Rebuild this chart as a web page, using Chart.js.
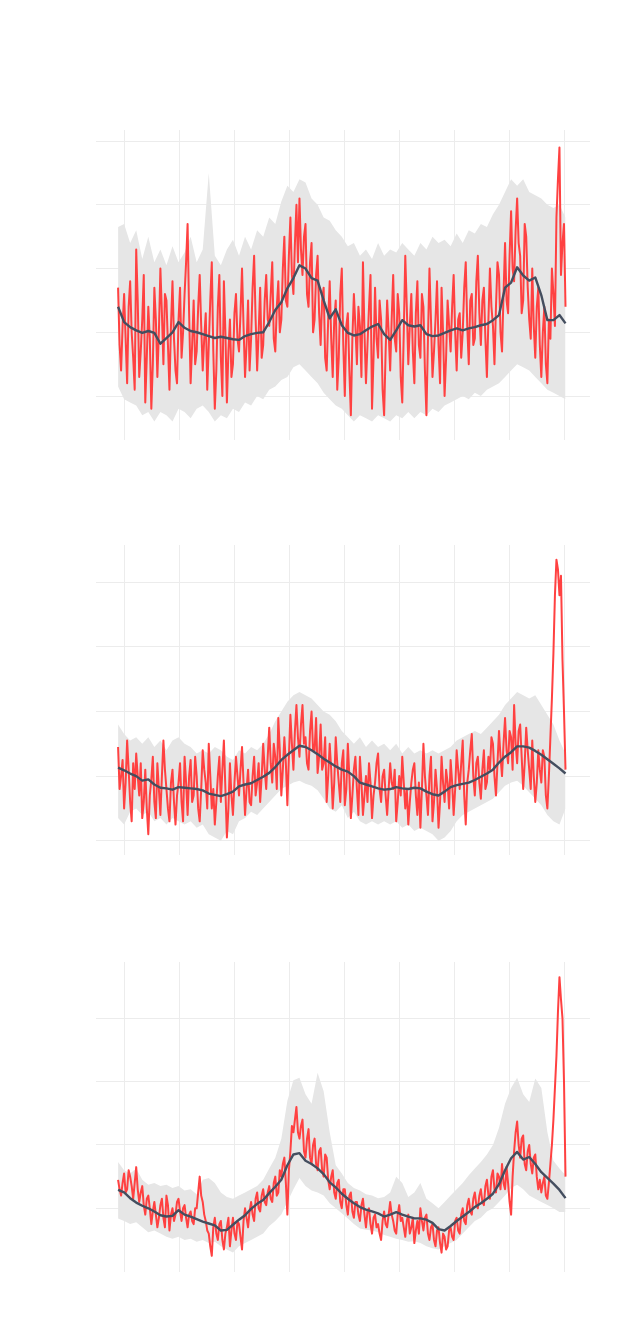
<!DOCTYPE html>
<html>
<head>
<meta charset="utf-8">
<script src="https://cdn.jsdelivr.net/npm/chart.js@4.4.1/dist/chart.umd.min.js"></script>
<style>
  html, body { margin: 0; padding: 0; background: #ffffff; }
  body { position: relative; width: 640px; height: 1320px; overflow: hidden; }
  .panel { position: absolute; left: 96px; width: 494px; height: 310px; }
</style>
</head>
<body>
<div class="panel" style="top:130px"><canvas id="chartTop"></canvas></div>
<div class="panel" style="top:545px"><canvas id="chartMiddle"></canvas></div>
<div class="panel" style="top:962px"><canvas id="chartBottom"></canvas></div>
<script>
// day offsets: raw series every 2.5 days, smoothed/range every 10 days
const DAY_START = -10;
const RAW_STEP = 2.5;
const SMOOTH_STEP = 10;
const X_TICKS = [0, 91, 182, 273, 364, 455, 546, 637, 728];
const X_MIN = -46.5;
const X_MAX = 770.5;

const RED = "#ff4141";
const DARK = "#444e5f";
const BAND = "#e6e6e6";
const GRID = "#ececec";

// ---- top panel ----
const topRaw = [
  17, 8, 4, 11, 16, 9, 2, 14, 18, 10, 6, 1, 23, 15, 3, 7, 12, 19, -1, 6,
  14, 9, -2, 5, 17, 12, 3, 10, 20, 13, 5, 16, 15, 8, 1, 11, 18, 9, 4, 2,
  12, 17, 6, 10, 16, 21, 27, 13, 2, 8, 15, 5, 7, 14, 19, 11, 4, 9, 13, 1,
  8, 15, 21, 7, -2, 4, 14, 19, 6, 0, 18, 10, -1, 7, 12, 3, 5, 13, 16, 9,
  7, 13, 20, 11, 3, 8, 15, 4, 9, 17, 22, 12, 4, 10, 17, 6, 8, 15, 19, 12,
  11, 16, 21, 9, 7, 14, 18, 10, 12, 20, 25, 15, 14, 22, 28, 19, 16, 24, 30, 21,
  31, 23, 19, 25, 27, 16, 14, 21, 24, 10, 12, 19, 22, 13, 8, 15, 17, 6, 4, 12,
  18, 9, 3, 12, 15, 1, 6, 16, 20, 8, 0, 11, 13, 4, -3, 9, 16, 11, 5, 14,
  11, 3, 21, 10, 2, 8, 14, 19, -2, 6, 17, 9, 6, 15, 12, 1, -3, 7, 15, 10,
  4, 12, 19, 9, 7, 16, 13, 3, -1, 10, 22, 14, 5, 11, 16, 7, 2, 13, 18, 8,
  6, 16, 14, 4, -3, 9, 20, 12, 3, 7, 12, 18, 8, 2, 17, 10, 0, 6, 15, 11,
  7, 14, 19, 10, 4, 12, 13, 6, 10, 17, 21, 11, 5, 15, 16, 8, 9, 18, 22, 13,
  8, 15, 17, 9, 3, 12, 20, 14, 11, 5, 14, 21, 19, 10, 7, 16, 24, 15, 13, 22,
  29, 20, 18, 26, 31, 24, 22, 13, 15, 27, 25, 17, 12, 9, 20, 11, 6, 14, 17, 8,
  3, 10, 14, 5, 2, 12, 9, 20, 16, 11, 28, 34, 39, 19, 24, 27, 14,
];
const topMean = [
  14.0, 11.6, 10.8, 10.3, 9.9, 10.2, 9.9, 8.2, 9.1, 10.0,
  11.6, 10.7, 10.2, 10.0, 9.7, 9.4, 9.1, 9.3, 9.1, 8.9,
  8.8, 9.4, 9.7, 9.9, 10.0, 11.6, 13.5, 14.7, 16.9, 18.5,
  20.5, 20.0, 18.5, 18.1, 15.0, 12.2, 13.6, 11.1, 9.9, 9.5,
  9.7, 10.3, 10.9, 11.3, 9.7, 8.8, 10.3, 11.9, 11.1, 10.9,
  11.1, 9.7, 9.4, 9.5, 9.9, 10.3, 10.6, 10.3, 10.6, 10.8,
  11.1, 11.3, 11.9, 12.7, 17.0, 17.8, 20.2, 18.9, 18.1, 18.6,
  15.8, 11.9, 11.9, 12.7, 11.4,
];
const topHigh = [
  26.5, 27, 24, 26, 21.5, 25, 21, 23, 20.5, 23.5,
  21, 22.5, 25, 21, 23, 35, 22, 20.5, 23, 24.5,
  22, 25, 23, 26, 25, 28, 27, 30.5, 33, 32,
  34, 33.5, 31, 30, 28, 27.5, 26, 25, 23.5, 24,
  22, 23, 21.5, 24, 22, 23, 22.5, 24, 23, 22,
  24, 23, 25, 24, 24.5, 23.5, 25.5, 24, 26, 25.5,
  27, 26.5, 28.5, 30, 32, 34, 33, 34, 32, 31.5,
  31, 30, 29.5, 30, 28,
];
const topLow = [
  1.5, -0.5, -1, -1.5, -3, -2.5, -4, -2.5, -3, -4,
  -2, -2.5, -3.5, -2, -1.5, -2.5, -4, -3, -3.5, -2,
  -2.5, -1, -1.5, 0, -0.5, 1, 1.5, 2.5, 3, 4.5,
  5, 4, 3, 2, 0.5, -0.5, -1.5, -2, -3, -4,
  -3, -3.5, -4, -3, -3.5, -4, -3, -3.5, -2.5, -3.5,
  -2.5, -3, -2, -2.5, -1.5, -1, -0.5, 0, -0.5, 0.5,
  0, 1, 1.5, 2, 3, 4, 5, 4.5, 4, 3,
  2, 1, 0.5, 0, -0.5,
];
const topYTicks = [0, 10, 20, 30, 40];

// ---- middle panel ----
const middleRaw = [
  14.5, 8, 10, 12.5, 5, 9, 15.5, 11, 6, 3, 12, 8, 13.5, 10, 7, 12, 3.5, 6, 11, 5,
  1, 7, 9.5, 13, 6, 3.5, 12, 8, 4, 10, 15.5, 11, 8, 5, 3, 9, 11, 6, 2.5, 7,
  9, 12, 6, 3, 13, 9, 4, 10, 12.5, 6, 7, 13, 10, 5, 3, 8, 14, 11, 9, 5,
  15, 10, 5, 8, 2.5, 6, 10, 13, 6, 11, 15.5, 8, 0.5, 5, 12, 7, 4, 9, 13, 10,
  7, 11, 14.5, 9, 4, 8, 11, 6, 5.5, 10, 13, 7, 9, 12, 6, 10, 15, 11, 8, 13,
  17.5, 12, 9, 15, 13, 8, 19, 14, 7, 11, 16, 12, 5.5, 13, 19.5, 15, 11, 17, 21, 16,
  13, 18, 21, 15, 16, 12, 11, 17, 20, 14, 14, 19, 10.5, 13, 18, 11, 12, 16, 6, 10,
  15, 11, 5, 9, 16, 12, 9, 6, 12, 14, 5.5, 8, 15, 10, 3.5, 7, 11, 13, 8, 4,
  13, 9, 4, 7, 10, 6, 12, 9, 3.5, 7, 9, 12, 13.5, 8, 6, 10, 11, 7, 4, 8,
  12, 9, 8, 11, 3, 6, 10, 7, 13, 9, 5, 8, 2.5, 6, 9, 11, 12, 7, 4, 9,
  2, 8, 15, 10, 7, 4, 10, 13, 3, 6, 11, 8, 2, 6, 13, 9, 6, 11, 9, 5,
  12.5, 9, 4, 8, 14, 11, 8, 12, 15.5, 7, 2.5, 9, 11, 14, 16.5, 10, 7, 12, 13, 9,
  6.5, 11, 14, 8, 9, 13, 11, 16, 15, 10, 7, 12, 17, 13, 10, 15, 19, 14, 12, 17,
  16, 11, 21, 15, 12, 17, 18, 13, 8, 12, 17.5, 14, 11, 8, 15.5, 10, 6, 9, 14, 11,
  9, 14, 13, 7, 5, 10, 16, 22, 29, 38, 43.5, 42, 38, 41, 28, 20, 11,
];
const middleMean = [
  11.3, 10.9, 10.4, 10.0, 9.3, 9.5, 8.7, 8.2, 8.1, 7.9,
  8.3, 8.2, 8.1, 8.0, 7.8, 7.3, 7.1, 6.9, 7.2, 7.6,
  8.4, 8.7, 8.9, 9.4, 9.9, 10.5, 11.4, 12.5, 13.3, 14.0,
  14.7, 14.5, 14.0, 13.4, 12.7, 12.1, 11.5, 11.0, 10.7, 10.0,
  9.0, 8.7, 8.4, 8.1, 7.9, 8.0, 8.3, 8.1, 8.0, 8.2,
  8.1, 7.6, 7.2, 7.0, 7.6, 8.3, 8.6, 8.8, 9.0, 9.4,
  9.9, 10.4, 11.0, 12.1, 13.0, 13.7, 14.6, 14.6, 14.4, 13.9,
  13.3, 12.6, 11.9, 11.2, 10.4,
];
const middleHigh = [
  18, 16.5, 15.5, 16, 15, 16, 14.5, 15.5, 14, 15.5,
  16, 15, 14.5, 13.5, 14, 13.5, 14.5, 14, 13, 12.5,
  14, 13.5, 14.5, 14, 15, 16.5, 18.5, 20, 21.5, 22.5,
  23, 22.5, 22, 21, 20, 19.5, 18.5, 17, 16, 15,
  16, 14.5, 15.5, 14.5, 15, 14, 15, 13.5, 14.5, 13.5,
  14, 13.5, 14, 13.5, 14, 14.5, 15.5, 16, 16.5, 17,
  16.5, 17.5, 18.5, 19.5, 21, 22, 23, 22.5, 22, 22.5,
  21, 19.5, 18, 15.5, 13.5,
];
const middleLow = [
  3.5, 2.5, 4.5, 5, 4, 4.5, 3, 3.5, 2.5, 3.5,
  3, 2.5, 3, 2, 2.5, 1, 0.5, 0, 1.5, 1,
  3, 3.5, 4.5, 4, 5, 6, 7, 8, 8.5, 9,
  9.3, 8.8, 8.5, 7.8, 6.5, 5, 4.5, 5.5, 3.5, 4.5,
  3, 2.5, 3, 2.5, 3, 2.5, 3, 2, 2.5, 1.5,
  2, 1.5, 1, 0, 0.5, 1.5, 3, 4, 4.5, 5,
  5.5, 6, 6.5, 7.5, 8.5, 9, 9.3, 8.5, 7.5, 6.5,
  5.5, 4, 3, 2.5, 5,
];
const middleYTicks = [0, 10, 20, 30, 40];

// ---- bottom panel ----
const bottomRaw = [
  4.5, 3, 2, 4, 5.5, 2.5, 3, 6, 5, 3.5, 1.5, 4, 6.5, 3, 1, 2.5, 3.5, 0.5, -1, 1.5,
  2, 0, -2.5, -0.5, 1, -1, -3, -1.5, 0.5, 1.5, -1.5, -3, 2, 0.5, -3.5, -1, 0, -2, -1, 1,
  1.5, -0.5, -2, 0, 0.5, -1.5, -3, -1, -0.5, -2, -2.5, 0, 0, 2.5, 5, 2, 1, -1, -2, -3.5,
  -4, -6, -7.5, -3, -1.5, -4, -5, -2.5, -2, -5, -6.5, -4, -3, -1.5, -6, -3.5, -1.5, -4, -5, -2,
  -2.5, -4.5, -6.5, -2, 0, -1.5, -3, -0.5, 1, -1, -2, 1.5, 2.5, 0, -0.5, 2, 3, 1, 0.5, 2.5,
  3.5, 1.5, 1, 4, 5, 2, 2.5, 6, 5, 7, 8, 4, -1, 6, 9, 13, 12, 14, 16, 12,
  11, 13, 14, 9, 8, 11, 12.5, 8, 7, 10, 11, 7, 6, 9, 9.5, 6, 5, 8.5, 8, 4.5,
  3, 5, 6, 2.5, 1.5, 4, 4.5, 1, 0, 3, 3, 0.5, -1, 2, 2.5, -0.5, -1.5, 1, 1, -1,
  -2, 0.5, 1.5, -1, -3, -0.5, 0, -2.5, -4, -1.5, -1, -3, -2.5, -4, -5, -2, -0.5, -2.5, -3, -1,
  1, -1, -2, -3.5, -4, -1, 0.5, -2, -1.5, -3, -4.5, -2, -1, -4, -3, -1.5, -5.5, -3.5, -2, -4,
  0, -2, -3.5, -1.5, -1, -4, -5, -3, -2.5, -5, -6, -3.5, -3, -5.5, -7, -4, -4.5, -6.5, -6, -3.5,
  -3, -4.5, -5, -2, -1.5, -3.5, -4, -1, 0, -2, -2.5, 0.5, 1.5, -0.5, -1, 1.5, 2.5, 0.5, 0, 2,
  3, 1, 0.5, 3.5, 4.5, 2, 1.5, 5, 6, 3, 2.5, 5.5, 5, 3, 7, 4, 3, 6.5, 4, 1,
  -1, 5, 9, 12, 13.7, 10, 8, 11, 11.5, 7, 6, 9, 10, 7, 5.5, 8, 8.5, 5, 3, 4.5,
  2.5, 4, 5, 2, 1.5, 4, 7, 10, 14, 19, 24, 31, 36.5, 33, 30, 20, 5,
];
const bottomMean = [
  2.9, 2.5, 1.6, 0.9, 0.4, 0, -0.5, -1.1, -1.3, -1.2,
  -0.3, -1.0, -1.3, -1.7, -2.1, -2.4, -2.7, -3.5, -3.4, -2.6,
  -1.8, -1.1, -0.1, 0.7, 1.3, 2.4, 3.4, 4.5, 6.8, 8.5,
  8.7, 7.5, 7.0, 6.3, 5.4, 4.1, 3.3, 2.3, 1.5, 0.8,
  0.2, -0.2, -0.5, -0.8, -1.3, -1.0, -0.6, -1.0, -1.3, -1.6,
  -1.6, -1.8, -2.3, -3.3, -3.5, -2.8, -2.0, -1.3, -0.6, 0.2,
  0.8, 1.5, 2.3, 3.8, 6.0, 7.9, 8.9, 7.7, 8.1, 7.0,
  5.7, 4.8, 3.9, 2.9, 1.6,
];
const bottomHigh = [
  7.3, 6, 5.5, 6.3, 4.5, 3.7, 4, 3.5, 3.7, 3.2,
  3.5, 2.8, 3, 2.2, 4.5, 4.8, 4, 2.5, 1.8, 1.5,
  2, 2.5, 3, 3.5, 4.5, 6.3, 8, 11, 17, 20.2,
  20.6, 18, 16.5, 21.4, 18.5, 12, 6.8, 5.5, 4, 3.2,
  2.8, 2.2, 2, 1.6, 1.8, 2.5, 5, 4, 1.8, 2.5,
  4, 1.5, 0.8, 0, 1, 2, 3, 4, 5.2, 6.3,
  7.3, 8.5, 10, 12.7, 16.5, 19, 20.6, 18, 16.8, 20.5,
  19, 12, 7.5, 6.3, 5.2,
];
const bottomLow = [
  -1.6, -2, -2.5, -2.2, -3, -3.8, -3.5, -4, -4.5, -4.8,
  -4.5, -5, -4.8, -5.3, -5, -5.5, -5.3, -6, -6.5, -7,
  -6, -5.5, -5, -4.5, -4, -2.8, -2, -1, 1, 3,
  4.8, 3.5, 2.8, 2.5, 2, 0.8, 0, -0.8, -1.6, -2.5,
  -3.2, -3.4, -3.5, -3.8, -4.2, -4.5, -4.8, -5, -5.3, -5.2,
  -5.5, -6, -6.3, -6.5, -6, -5.5, -5, -4, -3, -2,
  -1.5, -0.5, 0, 1, 2, 3.2, 3.7, 3, 2, 1.5,
  1, 0.5, 0, -0.6, -0.6,
];
const bottomYTicks = [0, 10, 20, 30];

const toPoints = (values, step) => {
  return values.map((y, i) => ({ x: DAY_START + i * step, y }));
};

const fixedTicks = (values) => (scale) => {
  scale.ticks = values.map((value) => ({ value }));
};

const drawPanel = (canvasId, raw, mean, high, low, yTicks, yMin, yMax) => {
  const ctx = document.getElementById(canvasId).getContext("2d");

  new Chart(ctx, {
    type: "line",
    data: {
      datasets: [
        {
          data: toPoints(mean, SMOOTH_STEP),
          borderColor: DARK,
          borderWidth: 2.4,
          borderJoinStyle: "round",
          pointRadius: 0,
          fill: false,
          order: 0,
        },
        {
          data: toPoints(raw, RAW_STEP),
          borderColor: RED,
          borderWidth: 2,
          borderJoinStyle: "round",
          pointRadius: 0,
          fill: false,
          order: 1,
        },
        {
          data: toPoints(high, SMOOTH_STEP),
          borderColor: "transparent",
          borderWidth: 0,
          backgroundColor: BAND,
          pointRadius: 0,
          fill: "+1",
          order: 2,
        },
        {
          data: toPoints(low, SMOOTH_STEP),
          borderColor: "transparent",
          borderWidth: 0,
          pointRadius: 0,
          fill: false,
          order: 3,
        },
      ],
    },
    options: {
      responsive: true,
      maintainAspectRatio: false,
      animation: false,
      events: [],
      layout: { padding: 0 },
      plugins: {
        legend: { display: false },
        tooltip: { enabled: false },
        filler: { drawTime: "beforeDatasetsDraw" },
      },
      scales: {
        x: {
          type: "linear",
          min: X_MIN,
          max: X_MAX,
          afterBuildTicks: fixedTicks(X_TICKS),
          ticks: { display: false },
          grid: { color: GRID, lineWidth: 1, drawTicks: false },
          border: { display: false },
        },
        y: {
          type: "linear",
          min: yMin,
          max: yMax,
          afterBuildTicks: fixedTicks(yTicks),
          ticks: { display: false },
          grid: { color: GRID, lineWidth: 1, drawTicks: false },
          border: { display: false },
        },
      },
    },
  });
};

drawPanel("chartTop", topRaw, topMean, topHigh, topLow, topYTicks, -6.9, 41.73);
drawPanel("chartMiddle", middleRaw, middleMean, middleHigh, middleLow, middleYTicks, -2.21, 45.77);
drawPanel("chartBottom", bottomRaw, bottomMean, bottomHigh, bottomLow, bottomYTicks, -10.06, 38.89);
</script>
</body>
</html>
